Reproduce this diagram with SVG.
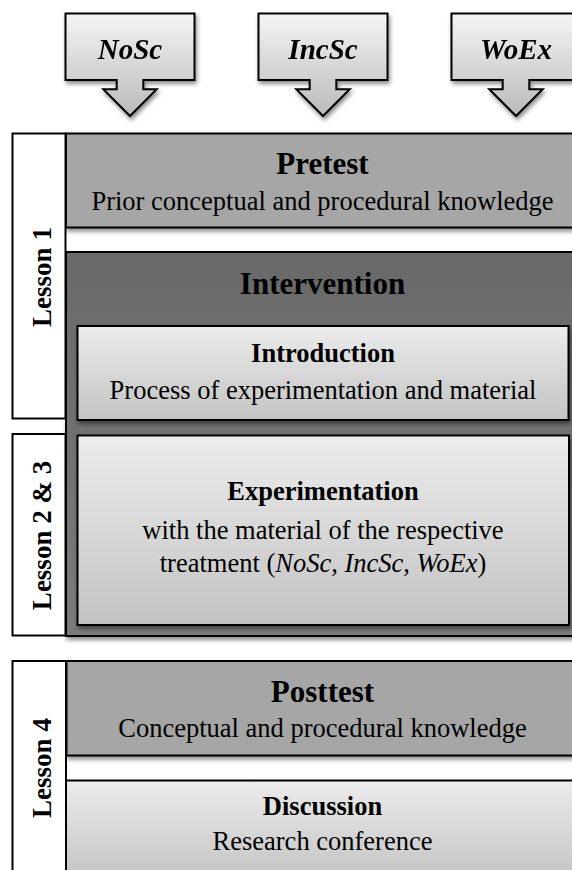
<svg xmlns="http://www.w3.org/2000/svg" width="572" height="870" viewBox="0 0 572 870">
<defs>
<linearGradient id="gCall" x1="0" y1="0" x2="0" y2="1">
<stop offset="0" stop-color="#f5f5f5"/>
<stop offset="1" stop-color="#bababa"/>
</linearGradient>
<linearGradient id="gLight" x1="0" y1="0" x2="0" y2="1">
<stop offset="0" stop-color="#ececec"/>
<stop offset="1" stop-color="#c3c3c3"/>
</linearGradient>
<linearGradient id="gDark" x1="0" y1="0" x2="0" y2="1">
<stop offset="0" stop-color="#6a6a6a"/>
<stop offset="0.5" stop-color="#717171"/>
<stop offset="1" stop-color="#7c7c7c"/>
</linearGradient>
<filter id="sh" x="-5%" y="-5%" width="115%" height="120%">
<feDropShadow dx="1.5" dy="3" stdDeviation="2" flood-color="#000" flood-opacity="0.45"/>
</filter>
<path id="callout" d="M-64.5,13.5 H64.5 V80 H13.3 V89.3 H26.7 L0,116 L-26.7,89.3 H-13.3 V80 H-64.5 Z"/>
</defs>
<style>
.bx{stroke:#000;stroke-width:2}
.call{fill:url(#gCall);stroke:#000;stroke-width:2;stroke-linejoin:miter}
.lesson{fill:#fff;stroke:#000;stroke-width:2}
.mid{fill:#a6a6a6}
.light{fill:url(#gLight)}
.dark{fill:url(#gDark)}
text{font-family:"Liberation Serif","Times New Roman",serif;fill:#000;text-anchor:middle}
.ct{font-size:29px;font-weight:bold;font-style:italic}
.t{font-size:31px;font-weight:bold}
.st{font-size:26.5px;font-weight:bold}
.s{font-size:26.5px}
.lt{font-size:27px;font-weight:bold}
.i{font-style:italic}
</style>

<g id="connectors"></g>

<g id="nosc" filter="url(#sh)">
<use href="#callout" class="call" transform="translate(130,0)"/>
<text class="ct" x="130" y="58.5">NoSc</text>
</g>
<g id="incsc" filter="url(#sh)">
<use href="#callout" class="call" transform="translate(323,0)"/>
<text class="ct" x="323" y="58.5">IncSc</text>
</g>
<g id="woex" filter="url(#sh)">
<use href="#callout" class="call" transform="translate(516,0)"/>
<text class="ct" x="516" y="58.5">WoEx</text>
</g>

<g id="pretest">
<rect class="bx mid" x="66" y="133.5" width="514" height="94" filter="url(#sh)"/>
<text class="t" x="322.5" y="174">Pretest</text>
<text class="s" x="322.5" y="210">Prior conceptual and procedural knowledge</text>
</g>

<g id="intervention">
<rect class="bx dark" x="66" y="252" width="514" height="384" filter="url(#sh)"/>
<text class="t" x="322.5" y="293.5">Intervention</text>
</g>

<g id="introduction">
<rect class="bx light" x="77.5" y="326" width="491" height="94" filter="url(#sh)"/>
<text class="st" x="323" y="361.5">Introduction</text>
<text class="s" x="323" y="399">Process of experimentation and material</text>
</g>

<g id="experimentation">
<rect class="bx light" x="77.5" y="435.5" width="491.5" height="189.5" filter="url(#sh)"/>
<text class="st" x="323" y="500">Experimentation</text>
<text class="s" x="323" y="538.5">with the material of the respective</text>
<text class="s" x="323" y="571.5">treatment (<tspan class="i">NoSc</tspan>, <tspan class="i">IncSc</tspan>, <tspan class="i">WoEx</tspan>)</text>
</g>

<g id="posttest">
<rect class="bx mid" x="66.5" y="661" width="514" height="94.5" filter="url(#sh)"/>
<text class="t" x="322.5" y="702">Posttest</text>
<text class="s" x="322.5" y="737">Conceptual and procedural knowledge</text>
</g>

<g id="discussion">
<rect class="bx light" x="65.7" y="780.5" width="515" height="100"/>
<text class="st" x="322.5" y="815">Discussion</text>
<text class="s" x="322.5" y="850">Research conference</text>
</g>

<g id="lesson1">
<rect class="lesson" x="12.5" y="133.5" width="53" height="285"/>
<text class="lt" transform="translate(50.5,277) rotate(-90)">Lesson 1</text>
</g>
<g id="lesson23">
<rect class="lesson" x="12.5" y="434" width="53" height="201.5"/>
<text class="lt" transform="translate(50.5,535.5) rotate(-90)">Lesson 2 &amp; 3</text>
</g>
<g id="lesson4">
<rect class="lesson" x="12.5" y="661" width="53.5" height="220"/>
<text class="lt" transform="translate(50.5,768) rotate(-90)">Lesson 4</text>
</g>
</svg>
